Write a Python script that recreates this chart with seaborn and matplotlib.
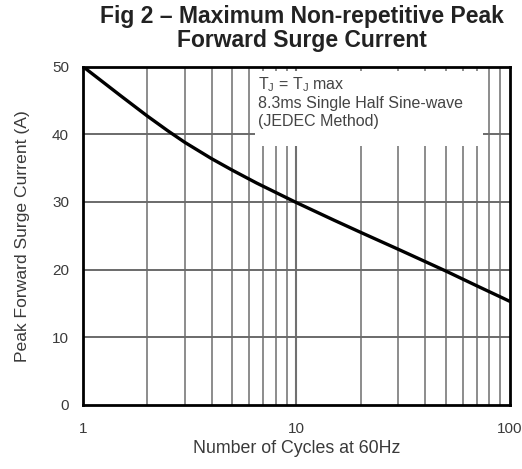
import numpy as np
import pandas as pd
import seaborn as sns
from matplotlib import pyplot as plt
from matplotlib.patches import Rectangle
from matplotlib.ticker import FixedLocator, NullFormatter

sns.set_style('white')
plt.rcParams['font.family'] = ['Liberation Sans', 'DejaVu Sans']

# values
cycles = [1, 1.5, 2, 2.5, 3, 4, 5, 6.5, 8, 10, 15, 20, 30, 40, 50, 70, 100]
current = [50, 45.7, 42.7, 40.5, 38.8, 36.4, 34.7, 32.8, 31.4, 29.9, 27.3, 25.5,
           23.0, 21.2, 19.8, 17.6, 15.3]
y_ticks = [0, 10, 20, 30, 40, 50]
x_ticks = [1, 10, 100]

df = pd.DataFrame({'cycles': cycles, 'current': current})

fig = plt.figure(figsize=(5.22, 4.69), dpi=100)
ax = fig.add_axes([0.159, 0.1365, 0.818, 0.7215])

minor = [m * d for d in (1, 10) for m in range(2, 10)]
for xv in minor:
    ax.axvline(xv, color='#8c8c8c', lw=1.4, zorder=1)
ax.axvline(10, color='#707070', lw=1.5, zorder=1)
for yv in y_ticks[1:-1]:
    ax.axhline(yv, color='#6a6a6a', lw=1.4, zorder=1)

# white note box that hides the grid behind the text
ax.add_patch(Rectangle((0.403, 0.765), 0.534, 0.222, transform=ax.transAxes,
                       fc='white', ec='none', zorder=2))

sns.lineplot(data=df, x='cycles', y='current', color='black', lw=2.4, ax=ax, zorder=4)

ax.set_xscale('log')
ax.set_xlim(1, 100)
ax.set_ylim(0, 50)
ax.xaxis.set_major_locator(FixedLocator(x_ticks))
ax.set_xticklabels([str(v) for v in x_ticks])
ax.xaxis.set_minor_formatter(NullFormatter())
ax.set_yticks(y_ticks)
ax.tick_params(axis='both', which='both', length=0, labelsize=11, colors='#3a3a3a', pad=10)
ax.tick_params(axis='x', pad=12)

for sp in ax.spines.values():
    sp.set_color('black')
    sp.set_linewidth(2)
    sp.set_zorder(5)

ax.set_xlabel('Number of Cycles at 60Hz', fontsize=12.8, color='#3a3a3a', labelpad=3)
ax.set_ylabel('Peak Forward Surge Current (A)', fontsize=12.6, color='#3a3a3a', labelpad=16)

fig.text(0.578, 0.99, 'Fig 2 \u2013 Maximum Non-repetitive Peak\nForward Surge Current',
         ha='center', va='top', fontsize=16.5, fontweight='bold', color='#222222',
         linespacing=1.1)

ax.text(0.41, 0.975,
        'T$_\\mathregular{J}$ = T$_\\mathregular{J}$ max\n8.3ms Single Half Sine-wave\n(JEDEC Method)',
        transform=ax.transAxes, ha='left', va='top', fontsize=11.5, color='#444444',
        linespacing=1.2, zorder=3)

fig.savefig('out.png', dpi=100)
